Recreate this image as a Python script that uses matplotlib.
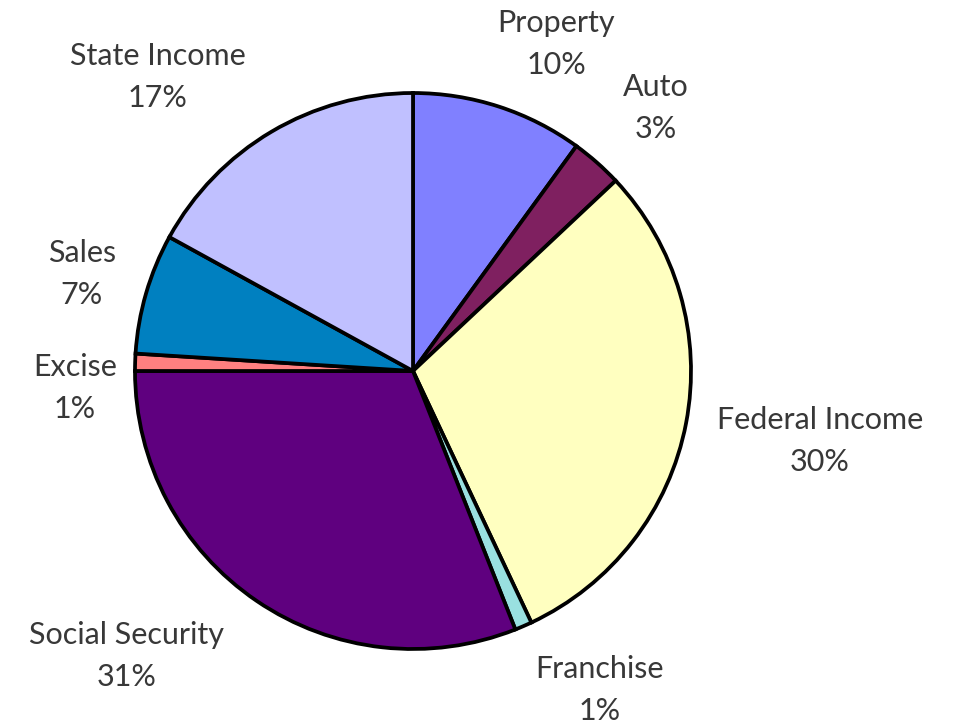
import numpy as np
import matplotlib.pyplot as plt

# slices clockwise from 12 o'clock
categories = ['Property', 'Auto', 'Federal Income', 'Franchise',
              'Social Security', 'Excise', 'Sales', 'State Income']
shares = [10, 3, 30, 1, 31, 1, 7, 17]
colors = ['#8080FF', '#7F2060', '#FFFFC0', '#99E0E0',
          '#5F007F', '#FF8080', '#0080C0', '#C0C0FF']

# label block centres in pixel coords (x, y from top)
label_pos = [(556, 44), (656, 108), (820, 441), (600, 690),
             (127, 656), (75, 388), (82, 274), (158, 77)]

W, H = 958, 724
fig = plt.figure(figsize=(W / 100, H / 100), dpi=100)
ax = fig.add_axes([0, 0, 1, 1])

ax.pie(shares, colors=colors, startangle=90, counterclock=False,
       center=(413, H - 371), radius=278,
       wedgeprops=dict(edgecolor='black', linewidth=2.7, joinstyle='miter'))

ax.set_xlim(0, W)
ax.set_ylim(0, H)
ax.axis('off')

for name, val, (x, y) in zip(categories, shares, label_pos):
    ax.text(x, H - y, f'{name}\n{val}%', ha='center', va='center',
            fontsize=22, family='Lato', color='#383838', linespacing=1.62)

fig.savefig('out.png', dpi=100)
